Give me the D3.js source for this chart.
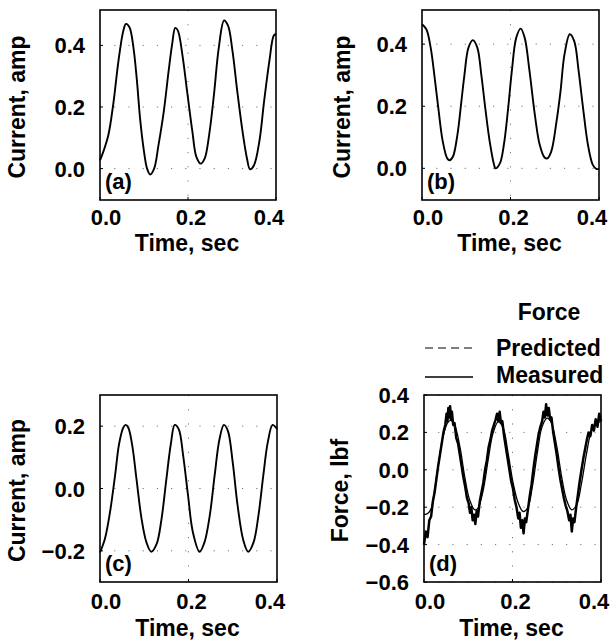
<!DOCTYPE html>
<html><head><meta charset="utf-8">
<script src="https://cdn.jsdelivr.net/npm/d3@7"></script>
<style>
body{margin:0;background:#fff;}
text{font-family:"Liberation Sans",Arial,Helvetica,sans-serif;font-weight:bold;fill:#000;}
</style></head>
<body><svg id="c" width="611" height="642"></svg>
<script>
// ---------- data ----------
const tA = [0,0.0076,0.019,0.030,0.042,0.053,0.059,0.067,0.076,0.084,0.091,0.099,0.107,0.114,0.123,0.133,0.145,0.156,0.164,0.171,0.177,0.187,0.198,0.210,0.219,0.229,0.238,0.248,0.259,0.270,0.282,0.291,0.301,0.312,0.324,0.334,0.341,0.350,0.362,0.373,0.385,0.395,0.4];
const iA = [0.027,0.055,0.109,0.208,0.35,0.448,0.47,0.459,0.393,0.284,0.164,0.066,0.0,-0.019,0.0,0.077,0.186,0.317,0.404,0.457,0.448,0.372,0.251,0.12,0.038,0.016,0.033,0.109,0.24,0.393,0.481,0.464,0.383,0.251,0.12,0.033,-0.002,0.011,0.087,0.219,0.35,0.432,0.437];

const tB = [0,0.0098,0.0196,0.0286,0.0377,0.047,0.057,0.0625,0.070,0.080,0.089,0.096,0.105,0.115,0.125,0.134,0.143,0.153,0.163,0.166,0.176,0.185,0.194,0.203,0.213,0.223,0.232,0.243,0.255,0.266,0.277,0.283,0.292,0.304,0.313,0.322,0.334,0.344,0.354,0.364,0.375,0.386,0.394,0.4];
const iB = [0.464,0.448,0.389,0.292,0.184,0.086,0.032,0.026,0.038,0.108,0.216,0.302,0.389,0.413,0.389,0.302,0.194,0.086,0.011,0.0,0.016,0.076,0.184,0.313,0.421,0.45,0.421,0.313,0.173,0.076,0.035,0.032,0.054,0.151,0.248,0.367,0.432,0.41,0.313,0.194,0.076,0.011,-0.002,-0.002];

const tC = [0,0.011,0.0225,0.034,0.043,0.0525,0.058,0.064,0.073,0.0825,0.094,0.105,0.116,0.128,0.139,0.150,0.160,0.169,0.178,0.188,0.199,0.210,0.225,0.236,0.248,0.259,0.270,0.280,0.289,0.300,0.311,0.324,0.335,0.347,0.358,0.369,0.379,0.390,0.398,0.4];
const iC = [-0.205,-0.162,-0.077,0.041,0.142,0.195,0.204,0.195,0.137,0.03,-0.098,-0.173,-0.203,-0.178,-0.098,0.03,0.142,0.204,0.19,0.105,-0.023,-0.141,-0.203,-0.173,-0.087,0.041,0.158,0.204,0.185,0.083,-0.055,-0.167,-0.203,-0.173,-0.087,0.041,0.147,0.204,0.195,0.19];

const tPred = [0,0.009,0.0166,0.024,0.033,0.043,0.053,0.06,0.069,0.081,0.092,0.103,0.115,0.122,0.134,0.145,0.156,0.168,0.179,0.19,0.2015,0.213,0.224,0.234,0.245,0.256,0.267,0.2785,0.288,0.3,0.311,0.322,0.334,0.345,0.356,0.3675,0.379,0.39,0.4];
const fPred = [-0.24,-0.232,-0.205,-0.107,0.036,0.178,0.25,0.264,0.241,0.125,-0.036,-0.16,-0.214,-0.205,-0.107,0.053,0.196,0.258,0.223,0.089,-0.071,-0.178,-0.223,-0.205,-0.089,0.089,0.232,0.276,0.25,0.125,-0.036,-0.16,-0.214,-0.187,-0.071,0.089,0.214,0.25,0.258];

const tMeas = [0,0.004,0.008,0.012,0.016,0.020,0.024,0.028,0.032,0.036,0.040,0.044,0.048,0.051,0.053,0.055,0.057,0.059,0.061,0.063,0.066,0.069,0.073,0.077,0.081,0.085,0.089,0.093,0.097,0.101,0.104,0.107,0.110,0.113,0.116,0.119,0.122,0.126,0.130,0.134,0.138,0.142,0.146,0.150,0.154,0.158,0.162,0.165,0.168,0.171,0.174,0.177,0.181,0.185,0.189,0.193,0.197,0.201,0.205,0.209,0.213,0.216,0.219,0.222,0.225,0.228,0.231,0.235,0.239,0.243,0.247,0.251,0.255,0.259,0.263,0.267,0.270,0.273,0.276,0.279,0.282,0.285,0.288,0.292,0.296,0.300,0.304,0.308,0.312,0.316,0.320,0.324,0.328,0.331,0.334,0.337,0.340,0.344,0.348,0.352,0.356,0.360,0.364,0.368,0.372,0.376,0.380,0.384,0.388,0.392,0.396,0.400];
const fMeas = [-0.40,-0.33,-0.36,-0.27,-0.25,-0.17,-0.12,-0.05,0.02,0.08,0.14,0.20,0.24,0.30,0.26,0.33,0.28,0.34,0.27,0.31,0.24,0.25,0.17,0.14,0.08,0.02,-0.04,-0.09,-0.15,-0.18,-0.23,-0.20,-0.27,-0.24,-0.29,-0.22,-0.25,-0.17,-0.12,-0.07,0.00,0.05,0.12,0.16,0.21,0.24,0.27,0.30,0.26,0.31,0.25,0.26,0.18,0.12,0.06,0.00,-0.06,-0.10,-0.16,-0.20,-0.26,-0.23,-0.31,-0.27,-0.34,-0.26,-0.28,-0.21,-0.14,-0.08,0.00,0.07,0.13,0.19,0.23,0.26,0.31,0.28,0.35,0.29,0.33,0.27,0.28,0.20,0.14,0.08,0.01,-0.05,-0.10,-0.15,-0.19,-0.22,-0.27,-0.24,-0.33,-0.26,-0.28,-0.20,-0.13,-0.06,0.00,0.06,0.11,0.16,0.20,0.18,0.24,0.21,0.27,0.23,0.30,0.26];

const xTicks = [0, 0.2, 0.4];
const yTicksAB = [0, 0.2, 0.4];
const yTicksC = [-0.2, 0, 0.2];
const yTicksD = [-0.6, -0.4, -0.2, 0, 0.2, 0.4];
const legendLabels = ["Predicted", "Measured"];

// ---------- drawing ----------
const svg = d3.select("#c");
const fmt = d3.format(".1f");

function panel(o) {
  const x = d3.scaleLinear().domain([0, 0.4]).range([o.l, o.r]);
  const y = d3.scaleLinear().domain(o.yd).range([o.b, o.t]);
  const g = svg.append("g");
  // grid
  g.selectAll(".gy").data(o.yt).join("line")
    .attr("x1", o.l).attr("x2", o.r).attr("y1", d => y(d)).attr("y2", d => y(d))
    .attr("stroke", "#777").attr("stroke-width", 1).attr("stroke-dasharray", "1.2,13");
  g.append("line").attr("x1", x(0.2)).attr("x2", x(0.2)).attr("y1", o.t).attr("y2", o.b)
    .attr("stroke", "#777").attr("stroke-width", 1).attr("stroke-dasharray", "1.2,13");
  // inward ticks
  g.selectAll(".ty").data(o.yt).join("line")
    .attr("x1", o.l).attr("x2", o.l + 3).attr("y1", d => y(d)).attr("y2", d => y(d)).attr("stroke", "#000");
  g.selectAll(".tx").data(xTicks).join("line")
    .attr("x1", d => x(d)).attr("x2", d => x(d)).attr("y1", o.b).attr("y2", o.b - 3).attr("stroke", "#000");
  // series
  o.series.forEach(s => {
    const pts = s.t.map((t, i) => [t, s.v[i]]);
    g.append("path").datum(pts)
      .attr("d", d3.line().x(d => x(d[0])).y(d => y(d[1])).curve(s.curve || d3.curveCatmullRom))
      .attr("fill", "none").attr("stroke", "#000").attr("stroke-width", s.w || 1.9)
      .attr("stroke-dasharray", s.dash || null).attr("stroke-linejoin", "round");
  });
  // frame
  g.append("rect").attr("x", o.l).attr("y", o.t).attr("width", o.r - o.l).attr("height", o.b - o.t)
    .attr("fill", "none").attr("stroke", "#000").attr("stroke-width", 1.6);
  // y tick labels
  g.selectAll(".yl").data(o.yt).join("text")
    .attr("x", o.l - 15).attr("y", d => y(d) + 8).attr("text-anchor", "end")
    .attr("font-size", 22).text(d => fmt(d));
  // x tick labels
  const xoff = [6, 3, -7];
  g.selectAll(".xl").data(xTicks).join("text")
    .attr("x", (d, i) => x(d) + xoff[i]).attr("y", o.b + o.xly).attr("text-anchor", "middle")
    .attr("font-size", 22).text(d => fmt(d));
  // titles
  g.append("text").attr("x", (o.l + o.r) / 2 - 1).attr("y", o.xty).attr("text-anchor", "middle")
    .attr("font-size", 23).text("Time, sec");
  g.append("text").attr("transform", `translate(${o.ytx},${(o.t + o.b) / 2 + 2}) rotate(-90)`)
    .attr("text-anchor", "middle").attr("font-size", 23).text(o.ytitle);
  g.append("text").attr("x", o.l + 5).attr("y", o.b - 11).attr("font-size", 22).text(o.tag);
  return { x, y };
}

panel({ l: 100, r: 276, t: 10, b: 200, yd: [-0.102, 0.515], yt: yTicksAB, xly: 25, xty: 251, ytx: 25, ytitle: "Current, amp", tag: "(a)",
  series: [{ t: tA, v: iA }] });
panel({ l: 422, r: 599, t: 10, b: 200, yd: [-0.102, 0.51], yt: yTicksAB, xly: 25, xty: 251, ytx: 350, ytitle: "Current, amp", tag: "(b)",
  series: [{ t: tB, v: iB }] });
panel({ l: 100, r: 277, t: 395, b: 582, yd: [-0.3, 0.3], yt: yTicksC, xly: 27, xty: 636, ytx: 25, ytitle: "Current, amp", tag: "(c)",
  series: [{ t: tC, v: iC }] });
panel({ l: 424, r: 601, t: 395, b: 582, yd: [-0.6, 0.4], yt: yTicksD, xly: 27, xty: 636, ytx: 348, ytitle: "Force, lbf", tag: "(d)",
  series: [{ t: tMeas, v: fMeas, curve: d3.curveLinear, w: 2.5 }, { t: tPred, v: fPred, w: 1.3 }] });

// legend
const lg = svg.append("g");
lg.append("text").attr("x", 549).attr("y", 320).attr("text-anchor", "middle").attr("font-size", 23).text("Force");
const ly = [348, 377];
lg.selectAll(".ll").data(legendLabels).join("line")
  .attr("x1", 425).attr("x2", 473).attr("y1", (d, i) => ly[i]).attr("y2", (d, i) => ly[i])
  .attr("stroke", "#000").attr("stroke-width", (d, i) => i ? 1.4 : 1)
  .attr("stroke-dasharray", (d, i) => i ? null : "8,5");
lg.selectAll(".lt").data(legendLabels).join("text")
  .attr("x", 496).attr("y", (d, i) => ly[i] + 8 - i * 2).attr("font-size", 23).text(d => d);
</script></body></html>
